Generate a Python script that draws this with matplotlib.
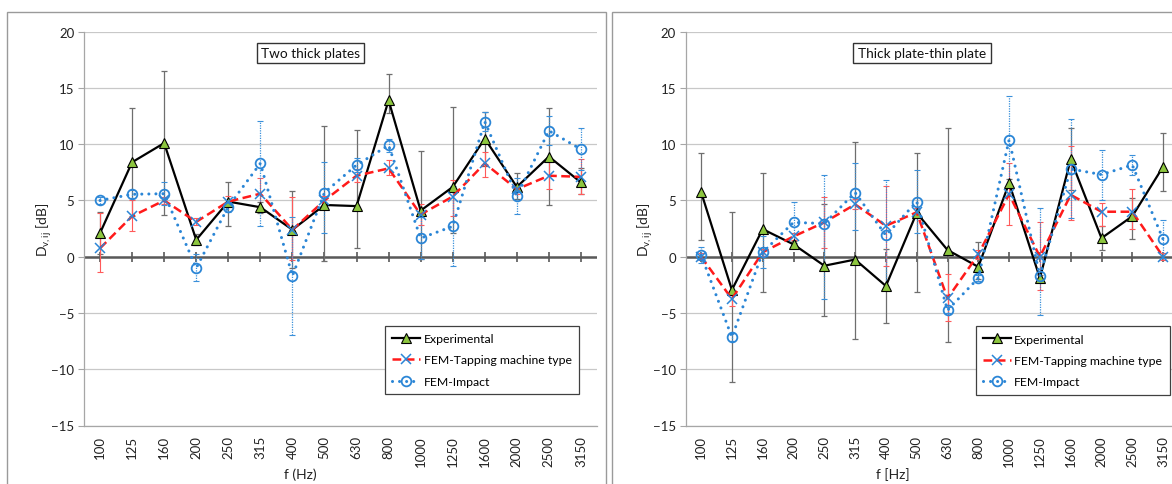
import matplotlib
matplotlib.use("Agg")
import matplotlib.pyplot as plt
from matplotlib.patches import Rectangle
import numpy as np

plt.rcParams['font.family'] = ['Lato', 'DejaVu Sans']

# ---------------- data ----------------
categories = ['100', '125', '160', '200', '250', '315', '400', '500', '630',
              '800', '1000', '1250', '1600', '2000', '2500', '3150']

# Left panel: Two thick plates
exp_L = [2.1, 8.4, 10.1, 1.5, 4.9, 4.4, 2.4, 4.6, 4.5, 13.9, 4.1, 6.2, 10.5, 6.2, 8.9, 6.6]
exp_L_lo = [0.2, 3.6, 3.7, 1.0, 2.7, 3.9, -1.0, -0.4, 0.8, 12.8, -0.2, 2.1, 8.1, 5.1, 4.6, 5.6]
exp_L_hi = [4.0, 13.2, 16.5, 2.0, 6.6, 4.9, 5.8, 11.6, 11.3, 16.2, 9.4, 13.3, 12.9, 7.4, 13.2, 7.9]
tap_L = [0.75, 3.6, 5.0, 3.1, 4.9, 5.6, 2.4, 5.0, 7.2, 7.85, 3.75, 5.35, 8.3, 6.0, 7.2, 7.1]
tap_L_lo = [-1.4, 2.3, 4.7, 2.8, 4.4, 4.4, -0.3, 4.6, 6.6, 7.3, 2.8, 3.6, 7.1, 5.6, 6.0, 5.6]
tap_L_hi = [3.9, 5.0, 5.3, 3.4, 5.4, 7.0, 5.3, 5.4, 7.8, 8.6, 4.7, 6.8, 9.3, 6.4, 8.4, 8.7]
imp_L = [5.0, 5.55, 5.6, -1.0, 4.45, 8.3, -1.7, 5.7, 8.15, 9.9, 1.65, 2.7, 12.0, 5.4, 11.2, 9.55]
imp_L_lo = [4.7, 5.2, 4.6, -2.2, 4.0, 2.7, -6.95, 2.1, 7.5, 9.3, -0.2, -0.85, 11.2, 3.8, 9.9, 7.7]
imp_L_hi = [5.3, 5.9, 6.6, 0.2, 4.9, 12.05, 3.5, 8.4, 8.8, 10.5, 3.5, 6.3, 12.9, 7.0, 12.5, 11.4]

# Right panel: Thick plate-thin plate
exp_R = [5.75, -2.95, 2.45, 1.1, -0.8, -0.25, -2.6, 3.9, 0.6, -0.9, 6.55, -1.9, 8.65, 1.65, 3.6, 8.0]
exp_R_lo = [1.5, -11.15, -3.15, 0.8, -5.25, -7.3, -5.9, -3.15, -7.6, -2.0, 6.2, -2.2, 5.9, 0.6, 1.6, 5.85]
exp_R_hi = [9.2, 3.95, 7.45, 1.4, 4.65, 10.2, 0.7, 9.25, 11.4, 1.3, 6.9, -1.6, 11.4, 2.7, 5.2, 11.0]
tap_R = [0.0, -3.75, 0.4, 1.8, 3.05, 4.65, 2.75, 3.95, -3.7, 0.2, 5.55, 0.0, 5.5, 4.0, 4.0, 0.0]
tap_R_lo = [-0.3, -4.35, 0.1, 1.5, 0.8, 4.2, -0.8, 3.6, -5.7, -0.2, 2.8, -3.0, 3.3, 2.75, 2.45, -0.3]
tap_R_hi = [0.3, -3.15, 0.7, 2.1, 5.3, 5.1, 6.3, 4.3, -1.55, 0.6, 8.3, 3.05, 9.85, 4.8, 6.0, 0.3]
imp_R = [0.15, -7.15, 0.4, 3.05, 2.95, 5.7, 1.9, 4.9, -4.75, -1.9, 10.4, -1.7, 7.8, 7.3, 8.15, 1.55]
imp_R_lo = [-0.6, -7.5, -1.0, 1.2, -3.8, 2.4, -3.0, 2.1, -5.0, -2.2, 6.5, -5.15, 3.4, 5.05, 7.3, -0.1]
imp_R_hi = [0.9, -6.8, 1.8, 4.9, 7.25, 8.3, 6.8, 7.7, -4.5, -1.6, 14.25, 4.3, 12.2, 9.5, 9.0, 3.25]

series_labels = ['Experimental', 'FEM-Tapping machine type', 'FEM-Impact']
panel_titles = ['Two thick plates', 'Thick plate-thin plate']
x_labels = ['f (Hz)', 'f [Hz]']
y_label = r'D$_\mathregular{v,ij}$ [dB]'
y_ticks = [-15, -10, -5, 0, 5, 10, 15, 20]

# ---------------- figure ----------------
W, H = 1172, 485
fig = plt.figure(figsize=(W / 100, H / 100), dpi=100)


def fx(px):
    return px / W


def fy(py):
    return 1 - py / H


# outer chart frames
fig.add_artist(Rectangle((fx(7), fy(495)), fx(606 - 7), (495 - 12.7) / H,
                         transform=fig.transFigure, fill=False,
                         edgecolor='#9A9A9A', lw=1.0))
fig.add_artist(Rectangle((fx(612), fy(495)), fx(1190 - 612), (495 - 12.7) / H,
                         transform=fig.transFigure, fill=False,
                         edgecolor='#9A9A9A', lw=1.0))

GREEN = '#8DC63F'
RED = '#FF1A1A'
BLUE = '#2B86D6'

panels = [
    dict(left=84, right=597, exp=(exp_L, exp_L_lo, exp_L_hi), tap=(tap_L, tap_L_lo, tap_L_hi),
         imp=(imp_L, imp_L_lo, imp_L_hi), title=panel_titles[0], tbox=(310.5, 54),
         xlab=x_labels[0], xlab_pos=(300, 475), ylab_pos=(44, 230), leg=(385, 326.7)),
    dict(left=685.7, right=685.7 + 16 * 30.8, exp=(exp_R, exp_R_lo, exp_R_hi),
         tap=(tap_R, tap_R_lo, tap_R_hi), imp=(imp_R, imp_R_lo, imp_R_hi),
         title=panel_titles[1], tbox=(922, 54), xlab=x_labels[1], xlab_pos=(893, 475),
         ylab_pos=(645, 230), leg=(975.7, 327.3)),
]

top_px, bot_px = 32.7, 426.5

for p in panels:
    ax = fig.add_axes([fx(p['left']), fy(bot_px), (p['right'] - p['left']) / W,
                       (bot_px - top_px) / H])
    x = np.arange(len(categories))
    ax.set_xlim(-0.5, len(categories) - 0.5)
    ax.set_ylim(-15, 20)
    ax.set_yticks(y_ticks)
    ax.set_xticks(x)
    ax.set_xticklabels(categories, rotation=90, fontsize=9.5, color='#222222')
    ax.tick_params(axis='x', length=0, pad=7)
    ax.tick_params(axis='y', length=4, width=0.8, color='#A6A6A6', labelsize=9.5,
                   labelcolor='#222222', pad=3)
    for s in ['top', 'right']:
        ax.spines[s].set_visible(False)
    for s in ['left', 'bottom']:
        ax.spines[s].set_color('#A6A6A6')
        ax.spines[s].set_linewidth(0.9)
    ax.grid(axis='y', color='#C8C8C8', lw=0.9)
    ax.set_axisbelow(True)
    ax.axhline(0, color='#595959', lw=1.8, zorder=1.5)
    ax.plot(x, np.zeros(len(x)), ls='none', marker='|', ms=7, mew=1.2,
            color='#595959', zorder=1.6)

    ev, elo, ehi = [np.array(a) for a in p['exp']]
    tv, tlo, thi = [np.array(a) for a in p['tap']]
    iv, ilo, ihi = [np.array(a) for a in p['imp']]

    # error bars
    ax.errorbar(x, ev, yerr=[ev - elo, ehi - ev], fmt='none', ecolor='#6E6E6E',
                elinewidth=0.9, capsize=2.5, capthick=0.9, zorder=2)
    ax.errorbar(x, tv, yerr=[tv - tlo, thi - tv], fmt='none', ecolor='#FF5A5A',
                elinewidth=0.8, capsize=2.5, capthick=0.8, zorder=2.1)
    eb = ax.errorbar(x, iv, yerr=[iv - ilo, ihi - iv], fmt='none', ecolor='#3A90DA',
                     elinewidth=0.9, capsize=2.5, capthick=0.8, zorder=2.2)
    for lc in eb[2]:
        lc.set_linestyle((0, (1, 1)))

    # series
    ax.plot(x, ev, color='black', lw=1.6, marker='^', ms=6.5, mfc=GREEN, mec='black',
            mew=0.8, label=series_labels[0], zorder=3)
    ax.plot(x, tv, color=RED, lw=1.8, ls=(0, (3.5, 1.8)), marker='x', ms=6.5, mec=BLUE,
            mew=1.1, label=series_labels[1], zorder=3.1)
    ax.plot(x, iv, color=BLUE, lw=2.2, ls=(0, (0.01, 2.3)), dash_capstyle='round',
            marker='o', ms=7, mfc='none', mec=BLUE, mew=1.3, label=series_labels[2],
            zorder=3.2)

    # title box
    fig.text(fx(p['tbox'][0]), fy(p['tbox'][1]), p['title'], ha='center', va='center',
             fontsize=9.8, color='#111111',
             bbox=dict(boxstyle='square,pad=0.33', fc='white', ec='#333333', lw=1.0))

    # axis labels
    fig.text(fx(p['xlab_pos'][0]), fy(p['xlab_pos'][1]), p['xlab'], ha='center',
             va='center', fontsize=10, color='#222222')
    fig.text(fx(p['ylab_pos'][0]), fy(p['ylab_pos'][1]), y_label, ha='center',
             va='center', rotation=90, fontsize=10, color='#222222')

    leg = ax.legend(loc='upper left', bbox_to_anchor=(fx(p['leg'][0]), fy(p['leg'][1])),
                    bbox_transform=fig.transFigure, borderaxespad=0, fontsize=8.8,
                    frameon=True, fancybox=False, edgecolor='#404040', framealpha=1,
                    handlelength=2.3, handletextpad=0.25, labelspacing=0.85,
                    borderpad=0.6)
    leg.get_frame().set_linewidth(0.9)

fig.savefig('out.png', dpi=100)
